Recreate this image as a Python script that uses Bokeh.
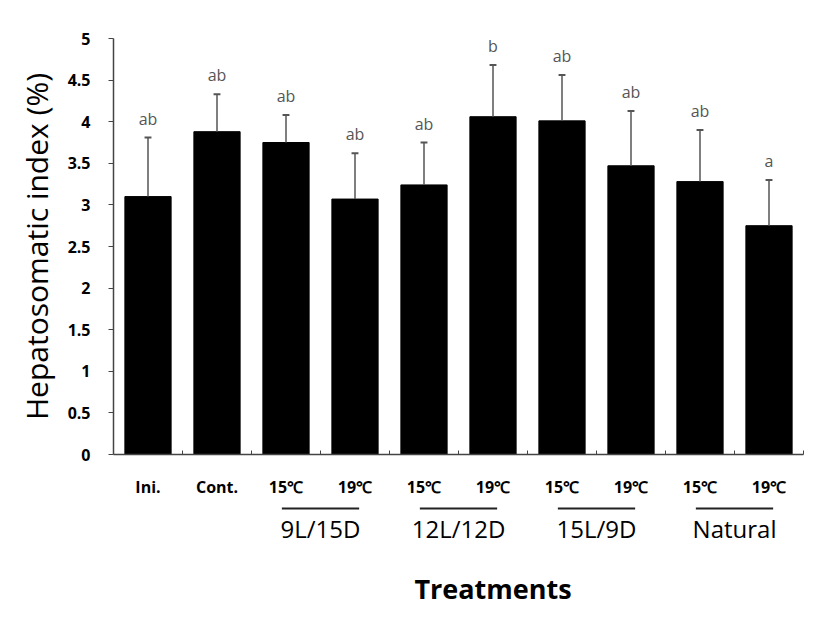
from bokeh.plotting import figure
from bokeh.layouts import column
from bokeh.models import FixedTicker, NumeralTickFormatter, Range1d
from bokeh.core.properties import value
from bokeh.embed import file_html
from bokeh.resources import INLINE

# ---- data ----
treatments = ["Ini.", "Cont.", "15℃", "19℃", "15℃", "19℃", "15℃", "19℃", "15℃", "19℃"]
hsi_mean = [3.10, 3.88, 3.75, 3.07, 3.24, 4.06, 4.01, 3.47, 3.28, 2.75]
hsi_sd = [0.71, 0.45, 0.33, 0.55, 0.51, 0.62, 0.55, 0.66, 0.62, 0.55]
sig_letters = ["ab", "ab", "ab", "ab", "ab", "b", "ab", "ab", "ab", "a"]
photoperiods = ["9L/15D", "12L/12D", "15L/9D", "Natural"]
y_ticks = [0, 0.5, 1, 1.5, 2, 2.5, 3, 3.5, 4, 4.5, 5]

xs = list(range(1, len(treatments) + 1))
upper = [m + s for m, s in zip(hsi_mean, hsi_sd)]
group_centers = [xs[2 + 2 * i] + 0.5 for i in range(len(photoperiods))]

W = 811
LEFT, RIGHT = 113, 8
xr = Range1d(0.5, 10.5)

p = figure(width=W, height=500, output_backend="svg", toolbar_location=None,
           x_range=xr, y_range=Range1d(0, 5),
           min_border_left=LEFT, min_border_right=RIGHT, min_border_top=38, min_border_bottom=43)
p.outline_line_color = None
p.xgrid.grid_line_color = None
p.ygrid.grid_line_color = None

# bars
p.vbar(x=xs, top=hsi_mean, width=0.67, fill_color="black", line_color="black")

# error bars (upper only)
p.segment(x0=xs, y0=hsi_mean, x1=xs, y1=upper, line_color="#555555", line_width=1.5)
p.segment(x0=[x - 0.05 for x in xs], y0=upper, x1=[x + 0.05 for x in xs], y1=upper,
          line_color="#555555", line_width=2)

# significance letters
p.text(x=xs, y=upper, text=sig_letters, y_offset=-8, text_align="center",
       text_baseline="bottom", text_font=value("Open Sans"), text_font_size="16px",
       text_color="#555555")

# x axis
xa = p.xaxis[0]
xa.ticker = FixedTicker(ticks=xs, minor_ticks=[x + 0.5 for x in xs])
xa.major_label_overrides = {x: t for x, t in zip(xs, treatments)}
xa.major_tick_in = 0
xa.major_tick_out = 0
xa.minor_tick_in = 4
xa.minor_tick_out = 0
xa.minor_tick_line_color = "#444444"
xa.axis_line_color = "#444444"
xa.axis_line_width = 1.5
xa.major_label_standoff = 21
xa.major_label_text_font = "Open Sans"
xa.major_label_text_font_style = "bold"
xa.major_label_text_font_size = "16px"
xa.major_label_text_color = "black"

# y axis
ya = p.yaxis[0]
ya.ticker = FixedTicker(ticks=y_ticks, minor_ticks=[])
ya.formatter = NumeralTickFormatter(format="0.[0]")
ya.major_tick_in = 0
ya.major_tick_out = 5
ya.major_tick_line_color = "#444444"
ya.axis_line_color = "#444444"
ya.axis_line_width = 1.5
ya.major_label_standoff = 18
ya.major_label_text_font = "Open Sans"
ya.major_label_text_font_style = "bold"
ya.major_label_text_font_size = "16px"
ya.major_label_text_color = "black"
ya.axis_label = "Hepatosomatic index (%)"
ya.axis_label_text_font = "Open Sans"
ya.axis_label_text_font_style = "normal"
ya.axis_label_text_font_size = "30px"
ya.axis_label_text_color = "black"
ya.axis_label_standoff = 8

# ---- lower strip: photoperiod groups and axis title, sharing the x range ----
H2 = 107
q = figure(width=W, height=H2, output_backend="svg", toolbar_location=None,
           x_range=xr, y_range=Range1d(H2, 0),
           min_border_left=LEFT, min_border_right=RIGHT, min_border_top=0, min_border_bottom=0)
q.axis.visible = False
q.xgrid.grid_line_color = None
q.ygrid.grid_line_color = None
q.outline_line_color = None

q.segment(x0=[c - 0.56 for c in group_centers], y0=8, x1=[c + 0.56 for c in group_centers], y1=8,
          line_color="#222222", line_width=2)
q.text(x=group_centers, y=28, text=photoperiods, text_align="center", text_baseline="middle",
       text_font=value("Open Sans"), text_font_size="24px", text_color="black")
q.text(x=[6.0], y=88, text=["Treatments"], text_align="center", text_baseline="middle",
       text_font=value("Open Sans"), text_font_style="bold", text_font_size="27px",
       text_color="black")

layout = column(p, q, spacing=0)
open("out.html", "w").write(file_html(layout, INLINE))
